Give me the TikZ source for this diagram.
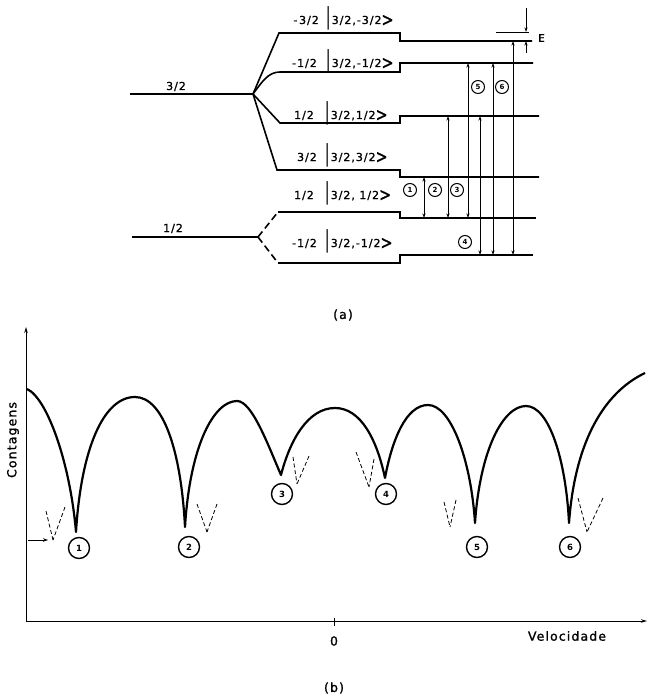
\documentclass[tikz,border=0pt]{standalone}
\usepackage{fontspec}
\setmainfont{DejaVu Sans}
\newfontfamily\lett[LetterSpace=9,FakeBold=1.2]{DejaVu Sans}
\usetikzlibrary{arrows.meta}
\newcommand{\kbar}{\scalebox{1}[2.1]{|}\,}
\newcommand{\kang}{\raisebox{-2pt}{\scalebox{1.3}[1.7]{>}}}
\begin{document}
\begin{tikzpicture}[x=1pt,y=-1pt,
  level/.style={line width=1.6pt},
  branchdash/.style={line width=1.6pt,dash pattern=on 7pt off 4pt},
  trans/.style={line width=0.7pt,{Stealth[length=4.5pt,width=3pt]}-{Stealth[length=4.5pt,width=3pt]}},
  lbl/.style={inner sep=0pt,font=\lett\fontsize{11}{13}\selectfont},
  mlbl/.style={lbl,anchor=base east},
  ket/.style={lbl,anchor=base west},
  smallnum/.style={circle,draw,fill=white,line width=1pt,minimum size=13pt,inner sep=0pt,font=\fontsize{7}{7}\selectfont\bfseries},
  bignum/.style={circle,draw,fill=white,line width=1.4pt,minimum size=21pt,inner sep=0pt,font=\fontsize{8.5}{8.5}\selectfont\bfseries},
  curve/.style={line width=2.2pt,line join=round},
  vdash/.style={line width=0.8pt,dash pattern=on 4pt off 2.5pt},
  axis/.style={line width=1pt,-{Stealth[length=6pt,width=3.5pt]}},
  big/.style={inner sep=0pt,font=\lett\fontsize{12.5}{14}\selectfont}
]
\useasboundingbox (0,0) rectangle (647,695);

% ---------------- (a) energy levels ----------------
\coordinate (g3a) at (130,94);
\coordinate (b3) at (253,94);
\coordinate (g1a) at (132,237);
\coordinate (b1) at (258,237);
\draw[level] (g3a) -- (b3);
\draw[level] (g1a) -- (b1);
\node[lbl,anchor=base] (l32) at (176,90) {3/2};
\node[lbl,anchor=base] (l12) at (173,232) {1/2};

% excited state levels
\draw[level] (b3) -- (279,33) -- (400,33) -- (400,41) -- (532,41);
\draw[level] (b3) .. controls (262,82) and (268,72) .. (280,72) -- (400,72) -- (400,63) -- (533,63);
\draw[level] (b3) -- (280,123) -- (400,123) -- (400,116) -- (539,116);
\draw[level] (b3) -- (277,170) -- (400,170) -- (400,177) -- (539,177);
% ground state levels
\draw[branchdash] (b1) -- (278,212);
\draw[level] (278,212) -- (400,212) -- (400,218) -- (536,218);
\draw[branchdash] (b1) -- (278,263);
\draw[level] (278,263) -- (400,263) -- (400,255) -- (533,255);

% labels
\node[mlbl] (m1) at (319,24) {-\,3/2};
\node[ket]  (k1) at (326,24) {\kbar 3/2,-3/2\kang};
\node[mlbl] (m2) at (317,67) {-1/2};
\node[ket]  (k2) at (326,67) {\kbar 3/2,-1/2\kang};
\node[mlbl] (m3) at (314,119) {1/2};
\node[ket]  (k3) at (325,119) {\kbar 3/2,1/2\kang};
\node[mlbl] (m4) at (317,161) {3/2};
\node[ket]  (k4) at (325,161) {\kbar 3/2,3/2\kang};
\node[mlbl] (m5) at (314,199) {1/2};
\node[ket]  (k5) at (325,199) {\kbar 3/2, 1/2\kang};
\node[mlbl] (m6) at (317,247) {-1/2};
\node[ket]  (k6) at (325,247) {\kbar 3/2,-1/2\kang};

% transitions
\coordinate (t1a) at (424,218); \coordinate (t1b) at (424,177);
\coordinate (t2a) at (448,218); \coordinate (t2b) at (448,116);
\coordinate (t3a) at (468,218); \coordinate (t3b) at (468,63);
\coordinate (t4a) at (480,255); \coordinate (t4b) at (480,116);
\coordinate (t5a) at (493,255); \coordinate (t5b) at (493,63);
\coordinate (t6a) at (513,255); \coordinate (t6b) at (513,41);
\draw[trans] (t1a) -- (t1b);
\draw[trans] (t2a) -- (t2b);
\draw[trans] (t3a) -- (t3b);
\draw[trans] (t4a) -- (t4b);
\draw[trans] (t5a) -- (t5b);
\draw[trans] (t6a) -- (t6b);
\node[smallnum] (n1) at (410,190) {1};
\node[smallnum] (n2) at (435,190) {2};
\node[smallnum] (n3) at (457,190) {3};
\node[smallnum] (n4) at (465,242) {4};
\node[smallnum] (n5) at (478,87) {5};
\node[smallnum] (n6) at (502,87) {6};

% shift E
\coordinate (e0) at (496,32); \coordinate (e1) at (529,32);
\coordinate (ea) at (526,8); \coordinate (eb) at (526,32);
\coordinate (ec) at (526,53); \coordinate (ed) at (526,41);
\draw[line width=0.9pt] (e0) -- (e1);
\draw[line width=0.7pt,-{Stealth[length=4.5pt,width=3pt]}] (ea) -- (eb);
\draw[line width=0.7pt,-{Stealth[length=4.5pt,width=3pt]}] (ec) -- (ed);
\node[lbl,anchor=west,font=\lett\fontsize{10.5}{12}\selectfont] (E) at (538,38) {E};

\node[big] (capa) at (343,315) {(a)};

% ---------------- (b) spectrum ----------------
\coordinate (org) at (26,621);
\coordinate (ytop) at (26,327);
\coordinate (xend) at (647,621);
\draw[axis] (org) -- (ytop);
\draw[axis] (org) -- (xend);
\coordinate (tk0) at (334,618); \coordinate (tk1) at (334,626);
\draw[line width=0.8pt] (tk0) -- (tk1);
\node[big] (zero) at (334,641) {0};
\node[big] (vel) at (567,636) {Velocidade};
\node[big,rotate=90] (cont) at (13,440) {Contagens};
\node[big] (capb) at (334,688) {(b)};

\coordinate (s0) at (27,389);
\coordinate (d1) at (76,532);
\coordinate (p1) at (135,397);
\coordinate (d2) at (185,527);
\coordinate (p2) at (237,401);
\coordinate (d3) at (281,475);
\coordinate (p3) at (335,408);
\coordinate (d4) at (385,478);
\coordinate (p4) at (428,405);
\coordinate (d5) at (475,523);
\coordinate (p5) at (526,406);
\coordinate (d6) at (569,523);
\coordinate (s1) at (645,373);
\draw[curve] (s0) .. controls (47,398) and (70,462) .. (d1)
  .. controls (81,450) and (103,397) .. (p1)
  .. controls (163,397) and (181,450) .. (d2)
  .. controls (190,445) and (214,401) .. (p2)
  .. controls (252,401) and (268,445) .. (d3)
  .. controls (290,440) and (308,408) .. (p3)
  .. controls (361,408) and (377,440) .. (d4)
  .. controls (392,440) and (406,405) .. (p4)
  .. controls (451,405) and (471,460) .. (d5)
  .. controls (480,450) and (503,406) .. (p5)
  .. controls (549,406) and (566,460) .. (d6)
  .. controls (575,440) and (605,392) .. (s1);

\node[bignum] (c1) at (79,548) {1};
\node[bignum] (c2) at (189,547) {2};
\node[bignum] (c3) at (282,494) {3};
\node[bignum] (c4) at (386,494) {4};
\node[bignum] (c5) at (477,547) {5};
\node[bignum] (c6) at (570,547) {6};

% dashed lines
\coordinate (v1) at (53,540); \coordinate (v1l) at (46,511); \coordinate (v1r) at (65,507);
\coordinate (v2) at (207,532); \coordinate (v2l) at (197,504); \coordinate (v2r) at (217,504);
\coordinate (v3) at (297,484); \coordinate (v3l) at (293,457); \coordinate (v3r) at (309,456);
\coordinate (v4) at (369,487); \coordinate (v4l) at (356,452); \coordinate (v4r) at (374,459);
\coordinate (v5) at (450,527); \coordinate (v5l) at (444,502); \coordinate (v5r) at (456,500);
\coordinate (v6) at (587,532); \coordinate (v6l) at (578,498); \coordinate (v6r) at (603,498);
\foreach \v in {1,...,6}{
  \draw[vdash] (v\v l) -- (v\v);
  \draw[vdash] (v\v r) -- (v\v);
}
\coordinate (ar0) at (28,540); \coordinate (ar1) at (48,540);
\draw[line width=0.8pt,-{Stealth[length=5pt,width=3.5pt]}] (ar0) -- (ar1);
\end{tikzpicture}
\end{document}
